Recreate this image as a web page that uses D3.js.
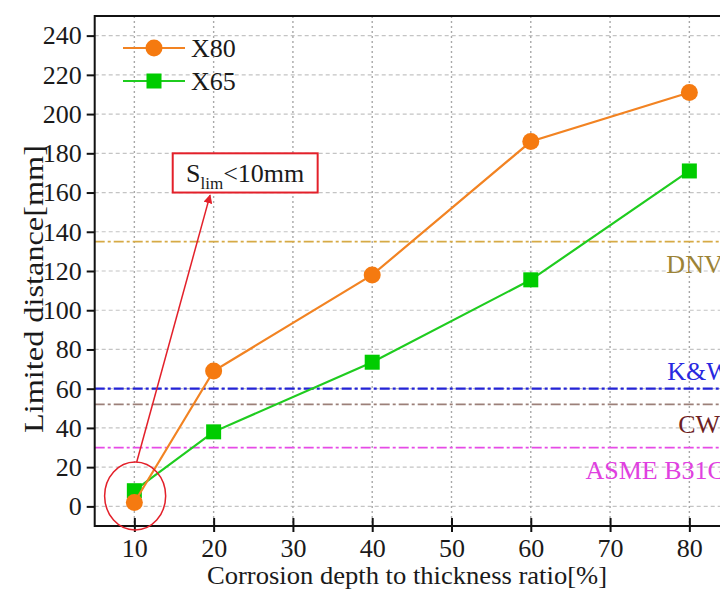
<!DOCTYPE html>
<html>
<head>
<meta charset="utf-8">
<script src="https://cdn.jsdelivr.net/npm/d3@7"></script>
<style>
  html, body { margin: 0; padding: 0; background: #fff; }
  svg { display: block; }
  text { font-family: "Liberation Serif", "Times New Roman", serif; }
</style>
</head>
<body>
<svg id="chart" width="720" height="599"></svg>
<script>
// Corrosion depth ratio (%) at which the limited distance was evaluated
const ratios = [10, 20, 40, 60, 80];
// Limited distance (mm) per steel grade
const x80Values = [2, 69, 118, 186, 211];
const x65Values = [8, 38, 73.5, 115.5, 171];

// Code-based reference limits (mm)
const refNames = ["DNV", "K&W", "CW", "ASME B31G"];
const refValues = [135, 60, 52, 30];
const refLineColors = ["#d6aa45", "#2323d6", "#9c8079", "#e64be6"];
const refTextColors = ["#9c8336", "#2828e0", "#6e1f1f", "#e040e0"];
// label anchor (x in %, baseline in mm)
const refLabelX = [77.1, 77.2, 78.6, 66.9];
const refLabelY = [119, 64.4, 37.4, 14];

const xTicks = [10, 20, 30, 40, 50, 60, 70, 80];
const yTicks = [0, 20, 40, 60, 80, 100, 120, 140, 160, 180, 200, 220, 240];

const serif = '"Liberation Serif", "Times New Roman", serif';
const svg = d3.select("#chart");
const x = d3.scaleLinear().domain([5, 85]).range([94.7, 729]);
const y = d3.scaleLinear().domain([-10, 250]).range([526, 16]);

// grid
const grid = svg.append("g");
grid.selectAll("line.hg").data(yTicks).join("line")
  .attr("x1", x(5)).attr("x2", x(85))
  .attr("y1", d => y(d)).attr("y2", d => y(d))
  .attr("stroke", "#c4c4c4").attr("stroke-width", 1.2)
  .attr("stroke-dasharray", "4,3");
grid.selectAll("line.vg").data(xTicks).join("line")
  .attr("x1", d => x(d)).attr("x2", d => x(d))
  .attr("y1", y(250)).attr("y2", y(-10))
  .attr("stroke", "#a8a8a8").attr("stroke-width", 1.4)
  .attr("stroke-dasharray", "2,3");

// reference limit lines
const refs = refNames.map((n, i) => ({
  name: n, value: refValues[i], line: refLineColors[i], text: refTextColors[i],
  lx: refLabelX[i], ly: refLabelY[i]
}));
svg.append("g").selectAll("line").data(refs).join("line")
  .attr("x1", x(5)).attr("x2", x(85))
  .attr("y1", d => y(d.value)).attr("y2", d => y(d.value))
  .attr("stroke", d => d.line)
  .attr("stroke-width", (d, i) => i === 1 ? 2.2 : 1.8)
  .attr("stroke-dasharray", "10,3,3,3");
svg.append("g").selectAll("text").data(refs).join("text")
  .attr("x", d => x(d.lx)).attr("y", d => y(d.ly))
  .attr("fill", d => d.text)
  .attr("font-size", 26)
  .text(d => d.name);

// axes
const xAxis = d3.axisBottom(x).tickValues(xTicks).tickSize(0).tickPadding(13);
const gx = svg.append("g").attr("transform", `translate(0,${y(-10)})`).call(xAxis)
  .attr("font-family", serif).attr("font-size", 26);
gx.select(".domain").remove();
gx.selectAll(".tick line").remove();
gx.selectAll(".tick").append("line")
  .attr("y1", -8).attr("y2", 6).attr("stroke", "#111").attr("stroke-width", 2);
gx.selectAll("text").attr("fill", "#1a1a1a");

const yAxis = d3.axisLeft(y).tickValues(yTicks).tickSize(8).tickPadding(5);
const gy = svg.append("g").attr("transform", `translate(${x(5)},0)`).call(yAxis)
  .attr("font-family", serif).attr("font-size", 26);
gy.select(".domain").remove();
gy.selectAll(".tick line").attr("stroke", "#111").attr("stroke-width", 2);
gy.selectAll("text").attr("fill", "#1a1a1a");

// frame
svg.append("path")
  .attr("d", `M${x(85)},${y(250)}H${x(5)}V${y(-10)}H${x(85)}`)
  .attr("fill", "none").attr("stroke", "#111").attr("stroke-width", 2);

// axis titles
svg.append("text")
  .attr("x", 407).attr("y", 584)
  .attr("text-anchor", "middle").attr("font-size", 26).attr("fill", "#1a1a1a")
  .attr("textLength", 400).attr("lengthAdjust", "spacingAndGlyphs")
  .text("Corrosion depth to thickness ratio[%]");
svg.append("text")
  .attr("transform", "translate(43,289) rotate(-90)")
  .attr("text-anchor", "middle").attr("font-size", 27).attr("fill", "#1a1a1a")
  .attr("textLength", 288).attr("lengthAdjust", "spacingAndGlyphs")
  .text("Limited distance[mm]");

// series
const green = "#1fcc1f", greenFill = "#00cc00";
const orange = "#f28322", orangeFill = "#f57a10";
const line = d3.line().x(d => x(d[0])).y(d => y(d[1]));
const x65 = ratios.map((r, i) => [r, x65Values[i]]);
const x80 = ratios.map((r, i) => [r, x80Values[i]]);

svg.append("path").datum(x65).attr("d", line)
  .attr("fill", "none").attr("stroke", green).attr("stroke-width", 2.2);
svg.append("g").selectAll("rect").data(x65).join("rect")
  .attr("x", d => x(d[0]) - 7.5).attr("y", d => y(d[1]) - 7.5)
  .attr("width", 15).attr("height", 15).attr("fill", greenFill);

svg.append("path").datum(x80).attr("d", line)
  .attr("fill", "none").attr("stroke", orange).attr("stroke-width", 2.2);
svg.append("g").selectAll("circle").data(x80).join("circle")
  .attr("cx", d => x(d[0])).attr("cy", d => y(d[1])).attr("r", 8.5)
  .attr("fill", orangeFill);

// legend
const legend = svg.append("g");
const legendItems = [
  { name: "X80", color: orange, fill: orangeFill, shape: "circle", cy: 48 },
  { name: "X65", color: green, fill: greenFill, shape: "square", cy: 81 }
];
legendItems.forEach(it => {
  legend.append("line").attr("x1", 123).attr("x2", 185)
    .attr("y1", it.cy).attr("y2", it.cy)
    .attr("stroke", it.color).attr("stroke-width", 2.2);
  if (it.shape === "circle") {
    legend.append("circle").attr("cx", 154).attr("cy", it.cy).attr("r", 8.5).attr("fill", it.fill);
  } else {
    legend.append("rect").attr("x", 154 - 7.5).attr("y", it.cy - 7.5)
      .attr("width", 15).attr("height", 15).attr("fill", it.fill);
  }
  legend.append("text").attr("x", 191).attr("y", it.cy + 9)
    .attr("font-size", 26).attr("fill", "#1a1a1a").text(it.name);
});

// annotation: circled first point with arrow to note box
const red = "#e3202a";
const defs = svg.append("defs");
defs.append("marker").attr("id", "arrowHead")
  .attr("viewBox", "0 0 10 10").attr("refX", 9).attr("refY", 5)
  .attr("markerWidth", 9).attr("markerHeight", 9).attr("markerUnits", "userSpaceOnUse")
  .attr("orient", "auto")
  .append("path").attr("d", "M0,0L10,5L0,10Z").attr("fill", red);

svg.append("ellipse")
  .attr("cx", x(10.1)).attr("cy", y(5.3))
  .attr("rx", x(10.1 + 3.85) - x(10.1)).attr("ry", y(5.3) - y(5.3 + 17.3))
  .attr("fill", "none").attr("stroke", red).attr("stroke-width", 1.5);

svg.append("line")
  .attr("x1", x(10.3)).attr("y1", y(22.6))
  .attr("x2", x(19.55)).attr("y2", y(158.7))
  .attr("stroke", red).attr("stroke-width", 1.5)
  .attr("marker-end", "url(#arrowHead)");

svg.append("rect")
  .attr("x", x(14.84)).attr("y", y(180))
  .attr("width", x(33.12) - x(14.84)).attr("height", y(160) - y(180))
  .attr("fill", "#fff").attr("stroke", red).attr("stroke-width", 2);

const note = svg.append("text")
  .attr("x", (x(14.84) + x(33.12)) / 2).attr("y", y(165.5))
  .attr("text-anchor", "middle").attr("font-size", 26).attr("fill", "#1a1a1a");
note.append("tspan").text("S");
note.append("tspan").attr("font-size", 17).attr("dy", 7).text("lim");
note.append("tspan").attr("dy", -7).text("<10mm");
</script>
</body>
</html>
